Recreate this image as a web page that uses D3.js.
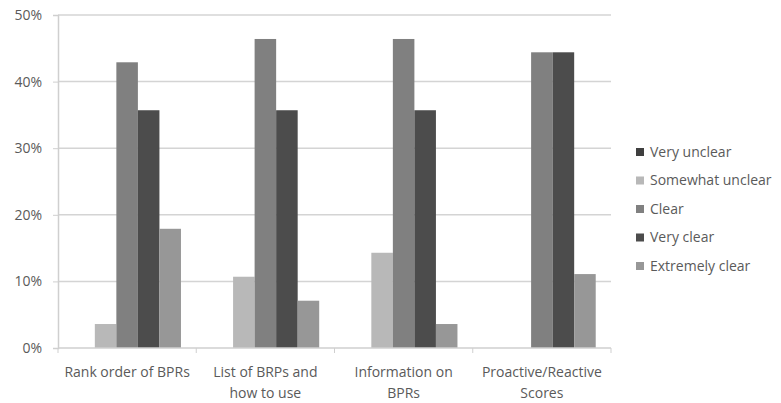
<!DOCTYPE html>
<html><head><meta charset="utf-8">
<script src="https://cdn.jsdelivr.net/npm/d3@7"></script>
<style>body{margin:0;background:#fff}svg{display:block}</style>
</head><body><svg id="c" width="781" height="403"></svg>
<script>
const categories = [["Rank order of BPRs"], ["List of BRPs and", "how to use"], ["Information on", "BPRs"], ["Proactive/Reactive", "Scores"]];
const seriesNames = ["Very unclear", "Somewhat unclear", "Clear", "Very clear", "Extremely clear"];
const veryUnclear = [0, 0, 0, 0];
const somewhatUnclear = [3.6, 10.7, 14.3, 0];
const clear = [42.9, 46.4, 46.4, 44.4];
const veryClear = [35.7, 35.7, 35.7, 44.4];
const extremelyClear = [17.9, 7.1, 3.6, 11.1];
const yTicks = [0, 10, 20, 30, 40, 50];

const seriesValues = [veryUnclear, somewhatUnclear, clear, veryClear, extremelyClear];
const colors = ["#3f3f3f", "#b8b8b8", "#808080", "#4c4c4c", "#979797"];

const svg = d3.select("#c");
const L = 58, R = 611, T = 15, B = 348;
const font = "'Open Sans', sans-serif";
const textCol = "#5a5a5a";
const fs = "14px";

const x0 = d3.scaleBand().domain(d3.range(categories.length)).range([L, R]).paddingInner(0).paddingOuter(0);
const x1 = d3.scaleBand().domain(d3.range(seriesNames.length)).range([0, x0.bandwidth()]).paddingOuter(0.71).paddingInner(0);
const y = d3.scaleLinear().domain([0, 50]).range([B, T]);

// gridlines
svg.append("g").selectAll("line").data(yTicks.filter(d => d > 0)).join("line")
  .attr("x1", L).attr("x2", R).attr("y1", d => y(d)).attr("y2", d => y(d))
  .attr("stroke", "#d4d4d4").attr("stroke-width", 1.5);

// y axis
const yAxis = svg.append("g").attr("transform", `translate(${L},0)`)
  .call(d3.axisLeft(y).tickValues(yTicks).tickFormat(d => d + "%").tickSize(5).tickPadding(11));
yAxis.select(".domain").attr("stroke", "#cfcfcf").attr("stroke-width", 1.5);
yAxis.selectAll(".tick line").attr("stroke", "#cfcfcf");
yAxis.selectAll("text").attr("fill", textCol).style("font-family", font).style("font-size", fs);

// bars
const groups = svg.append("g").selectAll("g").data(categories).join("g")
  .attr("transform", (d, i) => `translate(${x0(i)},0)`);
groups.selectAll("rect").data((d, i) => seriesValues.map((s, k) => ({k, v: s[i]}))).join("rect")
  .attr("x", d => x1(d.k)).attr("width", x1.bandwidth())
  .attr("y", d => y(d.v)).attr("height", d => B - y(d.v))
  .attr("fill", d => colors[d.k]);

// x axis
svg.append("line").attr("x1", L).attr("x2", R).attr("y1", B).attr("y2", B)
  .attr("stroke", "#cfcfcf").attr("stroke-width", 1.5);
svg.append("g").selectAll("line").data(d3.range(categories.length + 1)).join("line")
  .attr("x1", i => L + i * x0.bandwidth()).attr("x2", i => L + i * x0.bandwidth())
  .attr("y1", B).attr("y2", B + 5).attr("stroke", "#cfcfcf");

const lbl = svg.append("g").selectAll("text").data(categories).join("text")
  .attr("x", (d, i) => x0(i) + x0.bandwidth() / 2).attr("y", 377)
  .attr("text-anchor", "middle").attr("fill", textCol)
  .style("font-family", font).style("font-size", fs);
lbl.selectAll("tspan").data(d => d).join("tspan")
  .attr("x", function() { return this.parentNode.getAttribute("x"); })
  .attr("dy", (d, j) => j === 0 ? 0 : 21).text(d => d);

// legend
const leg = svg.append("g").selectAll("g").data(seriesNames).join("g")
  .attr("transform", (d, i) => `translate(636,${152 + i * 28.5})`);
leg.append("rect").attr("x", 0).attr("y", -4).attr("width", 8).attr("height", 8)
  .attr("fill", (d, i) => colors[i]);
leg.append("text").attr("x", 14).attr("y", 0).attr("dy", "0.35em")
  .attr("fill", textCol).style("font-family", font).style("font-size", fs).text(d => d);
</script></body></html>
